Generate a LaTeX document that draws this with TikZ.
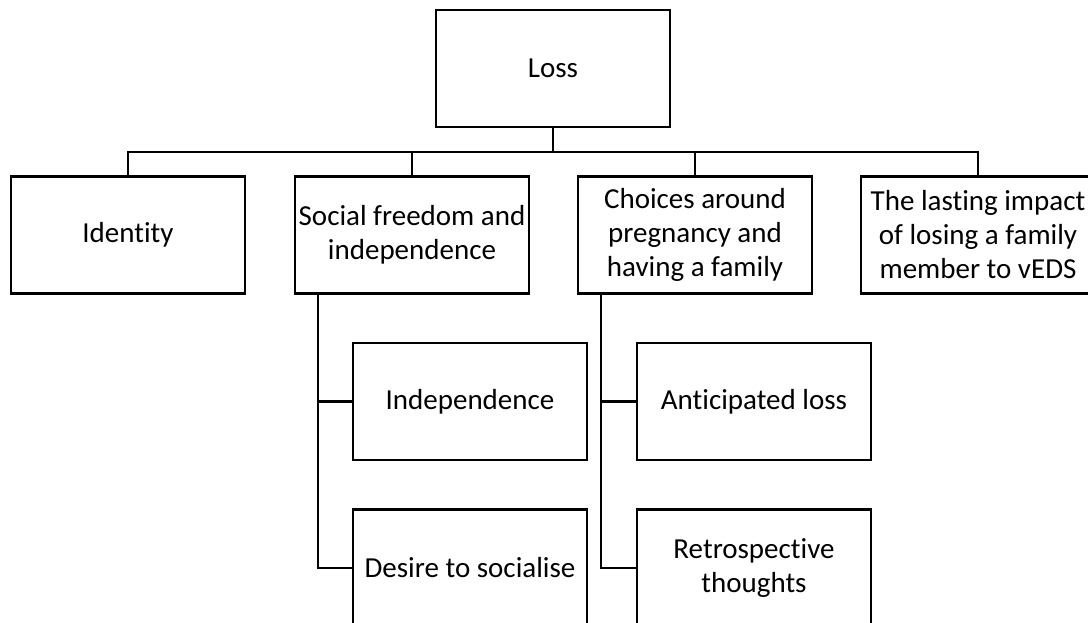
\documentclass[tikz,border=0pt]{standalone}
\usepackage{fontspec}
\setmainfont{Carlito}[Ligatures=NoCommon]
\begin{document}
\begin{tikzpicture}[x=1pt,y=-1pt,
  box/.style={draw=black,line width=2.2pt,minimum width=234pt,minimum height=117pt,
    align=center,inner sep=0pt,font=\fontsize{29}{34}\selectfont},
  conn/.style={draw=black,line width=2.2pt}]
\useasboundingbox (0,0) rectangle (1088,623);
\node[box] (loss) at (553,68.5) {Loss};
\node[box] (id) at (128,235) {Identity};
\node[box] (soc) at (412,235) {Social freedom and\\independence};
\node[box] (cho) at (695,235) {Choices around\\pregnancy and\\having a family};
\node[box] (last) at (978,235) {The lasting impact\\of losing a family\\member to vEDS};
\node[box] (ind) at (470,401.5) {Independence};
\node[box] (des) at (470,568) {Desire to socialise};
\node[box] (ant) at (754,401.5) {Anticipated loss};
\node[box] (ret) at (754,568) {Retrospective\\thoughts};
\coordinate (bus) at (553,152);
\draw[conn] (loss.south) -- (bus);
\draw[conn] (id.north) |- (bus);
\draw[conn] (soc.north) |- (bus);
\draw[conn] (cho.north) |- (bus);
\draw[conn] (last.north) |- (bus);
\coordinate (sdrop) at ([xshift=-94pt]soc.south);
\coordinate (cdrop) at ([xshift=-94pt]cho.south);
\draw[conn] (sdrop) |- (ind.west);
\draw[conn] (sdrop) |- (des.west);
\draw[conn] (cdrop) |- (ant.west);
\draw[conn] (cdrop) |- (ret.west);
\end{tikzpicture}
\end{document}
